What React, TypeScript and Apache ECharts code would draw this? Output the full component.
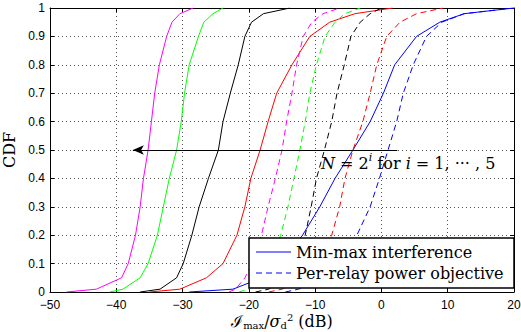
import React, { useEffect, useRef } from "react";
import * as echarts from "echarts";

// CDF levels (y values) shared by every curve
const cdfLevels = [0, 0.01, 0.05, 0.1, 0.2, 0.3, 0.4, 0.5, 0.6, 0.7, 0.8, 0.9, 0.95, 0.98, 1];

// x values (dB) read at each CDF level — min-max interference (solid)
const solidN2 = [-47.5, -43, -39.2, -38.2, -37.1, -36.4, -35.9, -35.2, -34.7, -34.2, -33.5, -32.4, -31.6, -30.4, -28.4];
const solidN4 = [-41, -39, -36.4, -35.2, -33.8, -32.9, -32.0, -30.9, -30.2, -29.7, -29.0, -27.6, -26.8, -25.4, -23.9];
const solidN8 = [-36.4, -33.4, -30.9, -29.9, -28.6, -27.5, -26.1, -24.6, -23.9, -22.8, -21.6, -20.6, -19.6, -17.8, -13.8];
const solidN16 = [-35, -30.4, -26.4, -23.9, -21.8, -20.6, -19.7, -18.3, -17.1, -15.8, -13.5, -10.8, -7.8, -4.0, 1.7];
const solidN32 = [-29, -22.4, -18.0, -15.5, -11.9, -9.3, -7.0, -4.3, -1.7, 0.3, 2.0, 5.3, 8.8, 12.5, 20];

// per-relay power objective (dashed)
const dashN2 = [-23, -22, -20.6, -19.5, -18.1, -17.1, -16.0, -15.0, -14.3, -13.5, -12.8, -11.8, -10.5, -8.8, -6.3];
const dashN4 = [-21.5, -20, -18, -16.8, -15.2, -14.1, -13.2, -12.3, -11.5, -10.8, -9.8, -8.5, -7.0, -5.5, -3.2];
const dashN8 = [-19, -17, -14.5, -13.3, -11.5, -10.6, -9.8, -8.6, -7.5, -6.7, -5.6, -4.6, -3.2, -1.7, 0];
const dashN16 = [-17, -15, -11, -9.3, -7.5, -6.3, -5.5, -4.3, -2.8, -1.7, -0.7, 0.8, 2.8, 5.3, 9.3];
const dashN32 = [-14.5, -12.5, -7.5, -5.5, -3.7, -1.7, -0.3, 1.0, 2.3, 3.3, 4.8, 6.8, 9.1, 12.5, 20];

const curveColors = ["#ff00ff", "#00ff00", "#000000", "#ff0000", "#0000ff"];
const solidCurves = [solidN2, solidN4, solidN8, solidN16, solidN32];
const dashCurves = [dashN2, dashN4, dashN8, dashN16, dashN32];

const legendLabels = ["Min-max interference", "Per-relay power objective"];

// annotation arrow (dB from -> to at CDF level)
const arrowFrom = 2.4;
const arrowTo = -37.5;
const arrowLevel = 0.5;

const SERIF = "'DejaVu Serif', 'Liberation Serif', serif";
const SANS = "'Liberation Sans', Arial, sans-serif";

export default function App() {
  const ref = useRef<HTMLDivElement>(null);
  useEffect(() => {
    if (!ref.current) return;
    const chart = echarts.init(ref.current, null, { renderer: "svg" });
    const fmtX = (v: number) => (v < 0 ? "\u2212" + Math.abs(v) : String(v));
    const grid = { left: 50, right: 7, top: 8, bottom: 40, outerBoundsMode: "none", containLabel: false };
    const dots = { type: [1, 3] as any, color: "#555", width: 1 };

    const series: any[] = [];
    solidCurves.forEach((xs, k) => {
      series.push({
        type: "line",
        name: k === 4 ? legendLabels[0] : "s" + k,
        data: cdfLevels.map((y, i) => [xs[i], y]),
        showSymbol: false,
        symbol: "none",
        lineStyle: { color: curveColors[k], width: 1 },
        itemStyle: { color: curveColors[k] },
        z: 3,
      });
    });
    dashCurves.forEach((xs, k) => {
      series.push({
        type: "line",
        name: k === 4 ? legendLabels[1] : "d" + k,
        data: cdfLevels.map((y, i) => [xs[i], y]),
        showSymbol: false,
        symbol: "none",
        lineStyle: { color: curveColors[k], width: 1, type: [6, 4] },
        itemStyle: { color: curveColors[k] },
        z: 3,
      });
    });
    series[0].markLine = {
      silent: true,
      symbol: ["none", "arrow"],
      symbolSize: [7, 11],
      label: { show: false },
      lineStyle: { color: "#000", width: 1, type: "solid" },
      data: [[{ coord: [arrowFrom, arrowLevel] }, { coord: [arrowTo, arrowLevel] }]],
      z: 4,
    };

    const lgX = 249, lgY = 238, lgW = 265, lgH = 50;
    const txt = "16px " + SERIF;
    chart.setOption({
      animation: false,
      backgroundColor: "#fff",
      grid,
      xAxis: [
        {
          type: "value",
          min: -50,
          max: 20,
          interval: 10,
          position: "bottom",
          axisLine: { show: true, onZero: false, lineStyle: { color: "#000", width: 1 } },
          axisTick: { show: true, inside: true, length: 4, lineStyle: { color: "#000" } },
          axisLabel: { formatter: fmtX, color: "#000", fontFamily: SANS, fontSize: 12, lineHeight: 12, margin: 7 },
          splitLine: { show: true, lineStyle: dots },
        },
        {
          type: "value",
          min: -50,
          max: 20,
          interval: 10,
          position: "top",
          axisLine: { show: true, onZero: false, lineStyle: { color: "#000", width: 1 } },
          axisTick: { show: true, inside: true, length: 4, lineStyle: { color: "#000" } },
          axisLabel: { show: false },
          splitLine: { show: false },
        },
      ],
      yAxis: [
        {
          type: "value",
          min: 0,
          max: 1,
          interval: 0.1,
          position: "left",
          name: "CDF",
          nameLocation: "middle",
          nameGap: 30,
          nameTextStyle: { fontFamily: SERIF, fontSize: 16, color: "#000" },
          axisLine: { show: true, onZero: false, lineStyle: { color: "#000", width: 1 } },
          axisTick: { show: true, inside: true, length: 4, lineStyle: { color: "#000" } },
          axisLabel: { color: "#000", fontFamily: SANS, fontSize: 12, lineHeight: 12, margin: 5 },
          splitLine: { show: true, lineStyle: dots },
        },
        {
          type: "value",
          min: 0,
          max: 1,
          interval: 0.1,
          position: "right",
          axisLine: { show: true, onZero: false, lineStyle: { color: "#000", width: 1 } },
          axisTick: { show: true, inside: true, length: 4, lineStyle: { color: "#000" } },
          axisLabel: { show: false },
          splitLine: { show: false },
        },
      ],
      series,
      graphic: [
        {
          type: "text",
          x: 282,
          y: 321,
          z: 50,
          silent: true,
          style: {
            text: "{I|\u2110}{sub|max}{n|/}{it|\u03c3}{sub|d}{sup|2}{n| (dB)}",
            align: "center",
            verticalAlign: "middle",
            fill: "#000",
            font: txt,
            rich: {
              I: { fontFamily: SERIF, fontSize: 16, fill: "#000", lineHeight: 18 },
              n: { fontFamily: SERIF, fontSize: 16, fill: "#000", lineHeight: 18 },
              it: { fontFamily: SERIF, fontSize: 16, fontStyle: "italic", fill: "#000", lineHeight: 18 },
              sub: { fontFamily: SERIF, fontSize: 10, fill: "#000", verticalAlign: "bottom", lineHeight: 11 },
              sup: { fontFamily: SERIF, fontSize: 10, fill: "#000", verticalAlign: "top", lineHeight: 11 },
            },
          },
        },
        {
          type: "text",
          left: 321,
          top: 152,
          z: 50,
          silent: true,
          style: {
            text: "{it|N} = 2{sup|i} for {it|i} = 1, \u00b7\u00b7\u00b7 , 5",
            fill: "#000",
            font: txt,
            rich: {
              it: { fontFamily: SERIF, fontSize: 16, fontStyle: "italic", fill: "#000", lineHeight: 22 },
              sup: { fontFamily: SERIF, fontSize: 11, fontStyle: "italic", fill: "#000", verticalAlign: "top", lineHeight: 12 },
            },
          },
        },
        {
          type: "rect",
          z: 100,
          silent: true,
          shape: { x: lgX, y: lgY, width: lgW, height: lgH },
          style: { fill: "#fff", stroke: "#000", lineWidth: 1.5 },
        },
        {
          type: "line",
          z: 101,
          silent: true,
          shape: { x1: 256, y1: 252, x2: 291, y2: 252 },
          style: { stroke: curveColors[4], lineWidth: 1 },
        },
        {
          type: "line",
          z: 101,
          silent: true,
          shape: { x1: 256, y1: 273, x2: 291, y2: 273 },
          style: { stroke: curveColors[4], lineWidth: 1, lineDash: [6, 4] },
        },
        {
          type: "text",
          z: 101,
          silent: true,
          x: 296,
          y: 252,
          style: { text: legendLabels[0], font: txt, fill: "#000", verticalAlign: "middle" },
        },
        {
          type: "text",
          z: 101,
          silent: true,
          x: 296,
          y: 273,
          style: { text: legendLabels[1], font: txt, fill: "#000", verticalAlign: "middle" },
        },
      ],
    });
    return () => chart.dispose();
  }, []);
  return (
    <div
      ref={ref}
      style={{ position: "absolute", left: 0, top: 0, width: 521, height: 332, background: "#fff" }}
    />
  );
}
